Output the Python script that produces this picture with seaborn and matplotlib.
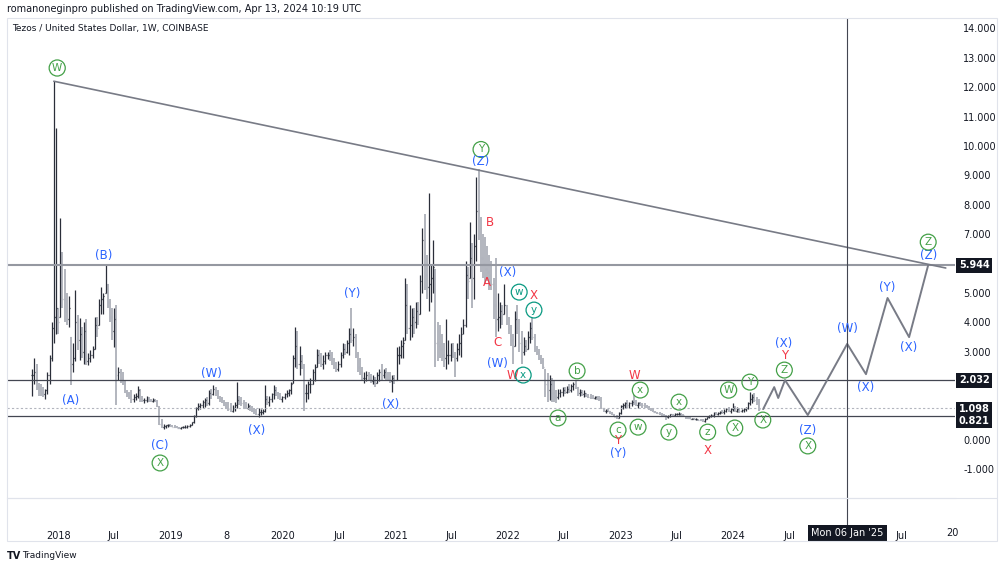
import pandas as pd
import numpy as np
import matplotlib
matplotlib.use('Agg')
import matplotlib.pyplot as plt
import seaborn as sns
from matplotlib.patches import Rectangle
from matplotlib.lines import Line2D

# weekly XTZ/USD bars, first bar week of 2017-10-09
start_week = '2017-10-09'
highs = [
    2.4, 2.8, 2.6, 1.95, 1.9, 1.8, 1.75, 2.3, 2.9, 4.0,
    12.2, 10.6, 4.5, 7.55, 6.4, 5.8, 5.0, 4.9, 3.5, 3.3,
    5.1, 4.25, 4.15, 3.85, 4.0, 4.1, 2.95, 3.05, 3.2, 4.2,
    4.2, 4.8, 5.2, 5.0, 5.95, 5.3, 4.8, 4.5, 4.5, 4.6,
    2.5, 2.4, 2.3, 2.05, 1.7, 1.65, 1.7, 1.55, 1.6, 1.85,
    1.75, 1.5, 1.43, 1.5, 1.45, 1.4, 1.42, 1.4, 1.35, 1.15,
    0.7, 0.55, 0.52, 0.55, 0.55, 0.52, 0.5, 0.48, 0.45, 0.46,
    0.47, 0.5, 0.5, 0.55, 0.62, 0.85, 1.12, 1.25, 1.25, 1.35,
    1.43, 1.45, 1.7, 1.75, 1.87, 1.8, 1.7, 1.5, 1.46, 1.35,
    1.3, 1.3, 1.25, 1.2, 1.3, 1.97, 1.5, 1.45, 1.35, 1.3,
    1.25, 1.2, 1.15, 1.1, 1.05, 1.1, 1.05, 1.05, 1.87, 1.5,
    1.5, 1.6, 1.87, 1.8, 1.65, 1.6, 1.5, 1.6, 1.7, 1.75,
    1.97, 2.9, 3.85, 3.7, 3.2, 2.9, 2.6, 1.9, 2.0, 2.1,
    2.4, 2.6, 3.1, 3.05, 2.95, 2.9, 3.0, 3.0, 3.05, 3.0,
    2.8, 2.65, 2.7, 3.0, 3.3, 3.25, 3.4, 3.8, 4.5, 3.8,
    3.6, 3.0, 2.8, 2.5, 2.3, 2.35, 2.3, 2.25, 2.2, 2.15,
    2.3, 2.4, 2.6, 2.4, 2.45, 2.3, 2.3, 2.2, 2.2, 3.17,
    3.2, 3.4, 3.5, 5.5, 5.3, 4.6, 4.5, 4.5, 4.7, 4.7,
    5.6, 7.2, 7.7, 6.3, 8.4, 6.0, 6.8, 5.8, 4.0, 3.9,
    3.6, 3.3, 4.1, 3.4, 3.3, 3.3, 3.0, 3.3, 3.6, 3.84,
    4.1, 6.1, 5.9, 7.4, 6.7, 7.0, 8.95, 9.2, 7.6, 7.0,
    6.9, 6.6, 6.3, 6.1, 5.5, 6.2, 5.0, 4.7, 4.6, 5.3,
    4.6, 4.2, 3.9, 3.6, 4.4, 4.6, 4.1, 3.7, 3.5, 3.4,
    3.7, 4.0, 4.2, 3.6, 3.2, 3.1, 2.9, 2.8, 2.4, 2.28,
    2.2, 2.1, 2.0, 1.7, 1.75, 1.75, 1.8, 1.8, 1.85, 1.9,
    1.9, 1.97, 2.02, 1.8, 1.75, 1.7, 1.7, 1.6, 1.55, 1.55,
    1.52, 1.5, 1.5, 1.5, 1.45, 1.1, 1.05, 1.05, 1.0, 0.95,
    0.9, 0.85, 0.95, 1.2, 1.25, 1.3, 1.35, 1.3, 1.35, 1.53,
    1.35, 1.3, 1.3, 1.25, 1.25, 1.2, 1.15, 1.1, 1.05, 1.0,
    0.97, 0.95, 0.93, 0.9, 0.85, 0.85, 0.9, 0.9, 0.92, 0.93,
    0.95, 0.92, 0.9, 0.8, 0.78, 0.77, 0.76, 0.75, 0.74, 0.73,
    0.72, 0.7, 0.75, 0.8, 0.85, 0.88, 0.95, 0.97, 0.95, 1.0,
    1.02, 1.05, 1.1, 1.12, 1.1, 1.26, 1.15, 1.12, 1.08, 1.05,
    1.08, 1.12, 1.3, 1.65, 1.55, 1.6, 1.45, 1.4,
]
lows = [
    1.5, 1.9, 1.7, 1.5, 1.5, 1.45, 1.4, 1.55, 1.9, 2.7,
    3.3, 3.6, 3.6, 4.2, 4.5, 4.0, 3.9, 3.85, 1.87, 2.3,
    2.7, 3.06, 2.72, 2.8, 2.6, 2.55, 2.55, 2.65, 2.8, 3.1,
    3.5, 3.9, 4.3, 4.3, 5.0, 4.5, 4.0, 3.4, 3.17, 1.2,
    2.05, 1.95, 1.87, 1.6, 1.46, 1.4, 1.25, 1.3, 1.35, 1.43,
    1.3, 1.3, 1.26, 1.3, 1.28, 1.28, 1.3, 1.28, 1.12, 0.5,
    0.4, 0.38, 0.42, 0.45, 0.45, 0.44, 0.42, 0.4, 0.38, 0.38,
    0.4, 0.4, 0.42, 0.44, 0.5, 0.58, 0.78, 1.02, 1.05, 1.1,
    1.12, 1.15, 1.2, 1.4, 1.53, 1.5, 1.4, 1.3, 1.25, 1.15,
    1.05, 1.0, 0.95, 0.95, 1.0, 1.1, 1.2, 1.15, 1.1, 1.05,
    1.05, 1.0, 0.95, 0.9, 0.85, 0.8, 0.85, 0.9, 0.95, 1.2,
    1.15, 1.3, 1.4, 1.5, 1.4, 1.35, 1.3, 1.4, 1.45, 1.5,
    1.55, 1.94, 2.5, 2.4, 2.2, 2.4, 1.0, 1.3, 1.4, 1.6,
    1.9, 2.0, 2.5, 2.6, 2.5, 2.4, 2.6, 2.75, 2.7, 2.55,
    2.4, 2.3, 2.35, 2.5, 2.8, 2.9, 2.95, 2.9, 3.3, 3.2,
    2.8, 2.3, 2.2, 2.0, 1.95, 2.0, 2.0, 1.95, 1.9, 1.8,
    1.95, 2.0, 2.05, 2.1, 2.05, 2.0, 1.95, 1.63, 1.9, 2.04,
    2.6, 2.8, 2.8, 3.4, 3.6, 3.4, 3.5, 3.6, 3.8, 3.9,
    4.3, 5.0, 5.1, 4.8, 4.4, 4.7, 5.0, 2.5, 2.7, 2.8,
    2.7, 2.5, 2.4, 2.6, 2.7, 2.8, 2.14, 2.7, 2.9, 2.82,
    3.6, 3.84, 4.8, 5.5, 4.5, 4.8, 6.1, 6.8, 5.7, 5.5,
    5.3, 5.4, 5.1, 5.1, 4.1, 3.5, 3.7, 3.8, 3.9, 4.3,
    3.9, 3.6, 3.2, 2.6, 3.2, 3.6, 3.0, 2.6, 2.9, 3.0,
    3.1, 3.3, 3.4, 3.0, 2.9, 2.72, 2.6, 2.4, 1.46, 1.3,
    1.35, 1.3, 1.3, 1.26, 1.4, 1.45, 1.5, 1.55, 1.6, 1.6,
    1.65, 1.7, 1.75, 1.5, 1.5, 1.5, 1.48, 1.45, 1.42, 1.4,
    1.38, 1.38, 1.35, 1.33, 1.05, 0.95, 0.92, 0.95, 0.9, 0.85,
    0.78, 0.72, 0.75, 0.9, 1.05, 1.1, 1.1, 1.1, 1.15, 1.2,
    1.15, 1.1, 1.15, 1.1, 1.1, 1.08, 1.02, 1.0, 0.95, 0.92,
    0.88, 0.85, 0.82, 0.8, 0.68, 0.75, 0.8, 0.82, 0.83, 0.85,
    0.85, 0.83, 0.82, 0.72, 0.72, 0.7, 0.7, 0.68, 0.68, 0.66,
    0.64, 0.63, 0.62, 0.7, 0.75, 0.78, 0.8, 0.85, 0.85, 0.88,
    0.9, 0.9, 0.95, 0.95, 0.92, 0.98, 0.95, 0.95, 0.93, 0.95,
    0.95, 0.98, 1.05, 1.2, 1.25, 1.3, 1.2, 1.0,
]
closes = [
    2.2, 2.3, 1.8, 1.7, 1.6, 1.55, 1.7, 2.2, 2.8, 3.8,
    4.2, 4.5, 4.0, 6.0, 4.8, 4.4, 4.1, 4.5, 2.6, 2.8,
    4.0, 3.4, 3.6, 3.0, 3.7, 2.7, 2.8, 2.9, 3.1, 3.9,
    3.8, 4.6, 4.8, 4.9, 5.3, 4.7, 4.2, 3.7, 4.1, 2.2,
    2.3, 2.1, 1.95, 1.65, 1.55, 1.5, 1.4, 1.45, 1.5, 1.7,
    1.4, 1.35, 1.35, 1.4, 1.35, 1.32, 1.36, 1.33, 1.15, 0.55,
    0.45, 0.48, 0.5, 0.5, 0.48, 0.46, 0.44, 0.42, 0.4, 0.43,
    0.44, 0.46, 0.47, 0.52, 0.6, 0.82, 1.08, 1.15, 1.2, 1.3,
    1.35, 1.25, 1.6, 1.55, 1.75, 1.6, 1.45, 1.4, 1.3, 1.2,
    1.1, 1.05, 1.0, 1.1, 1.2, 1.35, 1.3, 1.25, 1.15, 1.1,
    1.15, 1.05, 1.0, 0.95, 0.9, 0.95, 0.95, 1.0, 1.4, 1.3,
    1.4, 1.55, 1.7, 1.6, 1.5, 1.4, 1.45, 1.55, 1.6, 1.7,
    1.9, 2.8, 3.2, 2.6, 2.7, 2.5, 1.6, 1.6, 1.9, 1.9,
    2.3, 2.5, 2.9, 2.8, 2.6, 2.7, 2.9, 2.9, 2.8, 2.6,
    2.5, 2.4, 2.6, 2.9, 3.1, 3.0, 3.3, 3.6, 3.4, 3.5,
    2.9, 2.5, 2.3, 2.1, 2.1, 2.2, 2.1, 2.0, 2.05, 1.95,
    2.2, 2.3, 2.2, 2.3, 2.15, 2.1, 2.0, 2.1, 2.05, 2.9,
    2.9, 3.2, 3.3, 4.6, 3.8, 3.9, 4.2, 4.0, 4.4, 4.3,
    5.4, 6.8, 5.6, 5.2, 5.3, 5.5, 5.9, 3.3, 3.2, 3.1,
    2.9, 2.8, 2.9, 2.9, 3.0, 2.9, 2.8, 3.1, 3.3, 3.6,
    3.9, 5.6, 5.4, 6.2, 5.5, 6.6, 7.8, 7.2, 6.2, 6.0,
    5.8, 5.7, 5.6, 5.3, 4.6, 4.1, 4.2, 4.4, 4.3, 4.6,
    4.1, 3.8, 3.4, 3.2, 4.1, 3.8, 3.3, 3.0, 3.2, 3.1,
    3.5, 3.8, 3.5, 3.1, 3.0, 2.8, 2.7, 2.5, 1.9, 1.7,
    1.9, 1.6, 1.5, 1.45, 1.6, 1.65, 1.7, 1.65, 1.75, 1.7,
    1.85, 1.9, 1.8, 1.6, 1.65, 1.55, 1.6, 1.5, 1.48, 1.45,
    1.42, 1.45, 1.4, 1.38, 1.08, 1.0, 1.0, 0.98, 0.92, 0.88,
    0.8, 0.76, 0.92, 1.15, 1.2, 1.25, 1.2, 1.25, 1.3, 1.25,
    1.2, 1.25, 1.2, 1.18, 1.15, 1.1, 1.05, 1.02, 0.97, 0.95,
    0.92, 0.88, 0.85, 0.82, 0.78, 0.82, 0.87, 0.86, 0.88, 0.9,
    0.9, 0.86, 0.84, 0.75, 0.74, 0.72, 0.73, 0.7, 0.71, 0.69,
    0.67, 0.66, 0.72, 0.78, 0.82, 0.85, 0.92, 0.9, 0.92, 0.97,
    0.95, 1.0, 1.05, 1.0, 1.05, 1.1, 1.0, 1.05, 0.98, 1.02,
    1.05, 1.1, 1.25, 1.4, 1.45, 1.35, 1.3, 1.05,
]

# drawn projection path
proj_dates = ['2024-04-08', '2024-05-14', '2024-05-27', '2024-06-18', '2024-08-31',
              '2025-01-06', '2025-03-08', '2025-05-17', '2025-07-26', '2025-09-26']
proj_prices = [1.05, 1.8, 1.43, 2.04, 0.85, 3.27, 2.24, 4.83, 3.5, 5.95]

trend_dates = ['2017-12-18', '2025-11-22']
trend_prices = [12.2, 5.85]

level_values = [5.944, 2.032, 1.098, 0.821]
level_labels = ['5.944', '2.032', '1.098', '0.821']
level_label_pos = [5.944, 2.032, 1.05, 0.66]

price_ticks = [-1, 0, 3, 4, 5, 7, 8, 9, 10, 11, 12, 13, 14]
date_ticks = ['2018-01-01', '2018-07-01', '2019-01-01', '2019-07-01', '2020-01-01',
              '2020-07-01', '2021-01-01', '2021-07-01', '2022-01-01', '2022-07-01',
              '2023-01-01', '2023-07-01', '2024-01-01', '2024-07-01', '2025-07-01']
date_tick_labels = ['2018', 'Jul', '2019', '8', '2020', 'Jul', '2021', 'Jul', '2022',
                    'Jul', '2023', 'Jul', '2024', 'Jul', 'Jul']
cursor_date = '2025-01-06'

# wave labels: date, price, text, style
wave_labels = [
    ('2017-12-29', 12.65, 'W', 'g'),
    ('2018-05-30', 6.26, '(B)', 'b'),
    ('2018-02-12', 1.33, '(A)', 'b'),
    ('2018-11-28', -0.2, '(C)', 'b'),
    ('2018-11-28', -0.78, 'X', 'g'),
    ('2019-05-13', 2.28, '(W)', 'b'),
    ('2019-10-06', 0.34, '(X)', 'b'),
    ('2020-08-13', 5.0, '(Y)', 'b'),
    ('2020-12-14', 1.22, '(X)', 'b'),
    ('2021-10-05', 9.88, 'Y', 'g'),
    ('2021-10-05', 9.46, '(Z)', 'b'),
    ('2021-11-04', 7.41, 'B', 'r'),
    ('2021-10-25', 5.34, 'A', 'r'),
    ('2022-01-01', 5.71, '(X)', 'b'),
    ('2022-02-06', 5.03, 'w', 't'),
    ('2022-03-26', 4.9, 'X', 'r'),
    ('2022-03-26', 4.42, 'y', 't'),
    ('2021-11-26', 3.3, 'C', 'r'),
    ('2021-11-26', 2.59, '(W)', 'b'),
    ('2022-01-14', 2.21, 'W', 'r'),
    ('2022-02-19', 2.21, 'x', 't'),
    ('2022-08-13', 2.35, 'b', 'g'),
    ('2022-06-12', 0.75, 'a', 'g'),
    ('2023-02-14', 2.21, 'W', 'r'),
    ('2023-03-06', 1.7, 'x', 'g'),
    ('2022-12-24', 0.34, 'c', 'g'),
    ('2022-12-24', -0.03, 'Y', 'r'),
    ('2022-12-24', -0.44, '(Y)', 'b'),
    ('2023-02-27', 0.44, 'w', 'g'),
    ('2023-07-10', 1.29, 'x', 'g'),
    ('2023-06-07', 0.27, 'y', 'g'),
    ('2023-10-11', 0.27, 'z', 'g'),
    ('2023-10-11', -0.37, 'X', 'r'),
    ('2023-12-18', 1.7, 'W', 'g'),
    ('2024-01-07', 0.41, 'X', 'g'),
    ('2024-02-25', 1.97, 'Y', 'g'),
    ('2024-04-07', 0.68, 'X', 'g'),
    ('2024-06-14', 3.3, '(X)', 'b'),
    ('2024-06-16', 2.89, 'Y', 'r'),
    ('2024-06-16', 2.38, 'Z', 'g'),
    ('2024-08-31', 0.34, '(Z)', 'b'),
    ('2024-08-31', -0.2, 'X', 'g'),
    ('2025-01-06', 3.78, '(W)', 'b'),
    ('2025-03-08', 1.77, '(X)', 'b'),
    ('2025-05-15', 5.17, '(Y)', 'b'),
    ('2025-07-26', 3.13, '(X)', 'b'),
    ('2025-09-26', 6.26, '(Z)', 'b'),
    ('2025-09-26', 6.73, 'Z', 'g'),
]

assert len(highs) == len(lows) == len(closes)

sns.set_style('white')
plt.rcParams['font.family'] = ['DejaVu Sans']

BLUE = '#2962ff'
RED = '#f23645'
GREEN = '#43a047'
TEAL = '#089981'
TXT = '#131722'
UP = '#2a2e39'
DOWN = '#b2b5be'

df = pd.DataFrame({
    'date': pd.date_range(start_week, periods=len(highs), freq='7D'),
    'high': highs, 'low': lows, 'close': closes,
})
df['open'] = df['close'].shift(1).fillna(df['close']).clip(df['low'], df['high'])
df['up'] = df['close'] >= df['open']

fig = plt.figure(figsize=(10, 5.68), dpi=100)
ax = fig.add_axes([0.007, 70 / 568, 0.948, 480 / 568])

half = pd.Timedelta(days=3)
for is_up, col, w in [(False, DOWN, 1.4), (True, UP, 0.9)]:
    d = df[df['up'] == is_up]
    ax.vlines(d['date'], d['low'], d['high'], color=col, lw=w)
    ax.hlines(d['open'], d['date'] - half, d['date'], color=col, lw=0.9)
    ax.hlines(d['close'], d['date'], d['date'] + half, color=col, lw=0.9)

# levels
ax.axhline(level_values[0], color='#9598a1', lw=1.5)
ax.axhline(level_values[1], color='#434651', lw=0.9)
ax.axhline(level_values[2], color='#b2b5be', lw=0.8, ls=(0, (2, 2)))
ax.axhline(level_values[3], color='#434651', lw=0.9)

# trendline and projection
sns.lineplot(x=pd.to_datetime(trend_dates), y=trend_prices, ax=ax, color='#787b86', lw=1.2)
sns.lineplot(x=pd.to_datetime(proj_dates), y=proj_prices, ax=ax, color='#787b86', lw=1.4,
             sort=False)

# cursor vertical line
ax.axvline(pd.Timestamp(cursor_date), ymin=-0.06, ymax=1, color='#434651', lw=0.8,
           clip_on=False)

for dt, pr, txt, kind in wave_labels:
    x = pd.Timestamp(dt)
    if kind in ('g', 't'):
        col = GREEN if kind == 'g' else TEAL
        ax.text(x, pr, txt, color=col, fontsize=7.5, ha='center', va='center',
                bbox=dict(boxstyle='circle,pad=0.28', fc='none', ec=col, lw=0.9))
    else:
        col = BLUE if kind == 'b' else RED
        ax.text(x, pr, txt, color=col, fontsize=8.5, ha='center', va='center')

ax.set_xlim(pd.Timestamp('2017-07-19'), pd.Timestamp('2025-12-22'))
ax.set_ylim(-1.97, 14.35)

ax.yaxis.tick_right()
ax.set_yticks(price_ticks)
ax.set_yticklabels(['%.3f' % v for v in price_ticks])
ax.tick_params(axis='y', length=0, pad=6, labelsize=7, labelcolor=TXT)
ax.set_xticks(pd.to_datetime(date_ticks))
ax.set_xticklabels(date_tick_labels)
ax.tick_params(axis='x', length=0, pad=24, labelsize=7, labelcolor=TXT)
ax.set_xlabel('')
ax.set_ylabel('')
for s in ['top', 'left', 'right']:
    ax.spines[s].set_visible(False)
ax.spines['bottom'].set_color('#e0e3eb')

# boxed price labels on the scale
ytr = ax.get_yaxis_transform()
for lab, pos in zip(level_labels, level_label_pos):
    ax.text(1.004, pos, lab, transform=ytr, ha='left', va='center', fontsize=7,
            color='white', fontweight='bold',
            bbox=dict(boxstyle='square,pad=0.25', fc='#131722', ec='none'), clip_on=False)

xtr = ax.get_xaxis_transform()
ax.text(pd.Timestamp(cursor_date), -0.073, "Mon 06 Jan '25", transform=xtr, ha='center',
        va='center', fontsize=7, color='white',
        bbox=dict(boxstyle='square,pad=0.35', fc='#131722', ec='none'), clip_on=False)
ax.text(0.997, -0.073, '20', transform=ax.transAxes, ha='center', va='center', fontsize=7,
        color=TXT, clip_on=False)

# frame and header
fig.patches.append(Rectangle((0.007, 27 / 568), 0.99, 523 / 568, transform=fig.transFigure,
                             fill=False, ec='#e0e3eb', lw=0.8))
fig.lines.append(Line2D([0.007, 0.997], [70 / 568, 70 / 568], transform=fig.transFigure,
                        color='#e0e3eb', lw=0.8))
fig.text(0.007, 1 - 9 / 568, 'romanoneginpro published on TradingView.com, Apr 13, 2024 10:19 UTC',
         fontsize=7, color=TXT, va='center')
fig.text(0.012, 1 - 28 / 568, 'Tezos / United States Dollar, 1W, COINBASE', fontsize=6.5,
         color=TXT, va='center')
fig.text(0.007, 1 - 556 / 568, 'TV', fontsize=7, color=TXT, va='center', fontweight='bold')
fig.text(0.022, 1 - 556 / 568, 'TradingView', fontsize=6.5, color=TXT, va='center')

fig.savefig('out.png', dpi=100, facecolor='white')
